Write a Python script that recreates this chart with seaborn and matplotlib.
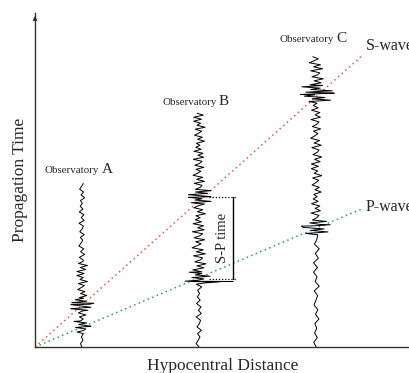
import numpy as np
import pandas as pd
import seaborn as sns
import matplotlib
matplotlib.use("Agg")
import matplotlib.pyplot as plt

# Observatories: hypocentral distance and the arrival times
obs_names = ["A", "B", "C"]
obs_dist = [1.0, 3.5, 6.0]
p_times = [0.60, 2.03, 3.60]
s_times = [1.28, 4.48, 7.58]

# Travel time lines (origin to the label end)
line_dist = [0.0, 7.0]
p_line = [0.0, 4.15]
s_line = [0.0, 8.75]

# Seismogram wiggle shape, hand typed, reused along each trace
wiggle = [0.4, -0.9, 0.7, -0.3, 1.0, -0.6, 0.2, 0.5, -0.8, 0.9, -0.4, 0.6, -1.0,
          -0.3, 0.3, -0.5, 0.8, -0.7, 0.1, 0.5, -0.95, 0.75, -0.2, 0.65, -0.85,
          0.35, -0.55, 0.15, -0.45, 0.9, -0.25, 0.55, -0.75, -0.1, 0.45, -0.65,
          1.0, -0.35, 0.25, -0.9]
wiggle_start = [0, 11, 23]

# Trace segments: (time from, time to, amplitude in px, time step)
segments = {
    "A": [(0.0, 0.45, 1.5, 0.10), (0.45, 0.78, 8, 0.045), (0.78, 1.10, 5.0, 0.06),
          (1.10, 1.48, 12, 0.045), (1.48, 2.6, 5.5, 0.06), (2.6, 4.9, 3.0, 0.085)],
    "B": [(0.0, 1.88, 3.0, 0.10), (1.88, 2.25, 11, 0.04), (2.25, 4.28, 7.0, 0.06),
          (4.28, 4.72, 12, 0.04), (4.72, 7.0, 6.0, 0.06)],
    "C": [(0.0, 3.40, 3.0, 0.14), (3.40, 3.80, 13, 0.045), (3.80, 7.35, 5.5, 0.07),
          (7.35, 7.85, 16, 0.04), (7.85, 8.7, 7.0, 0.06)],
}
# Extra long strokes at arrivals: (time, offset px)
spikes = {"A": [(0.62, 9), (1.31, 12), (1.27, -11)],
          "B": [(1.95, 20), (1.96, 34), (1.97, -14), (4.50, 12)],
          "C": [(3.62, -15), (3.66, 14), (7.60, 18), (7.56, -16)]}

PX_X = 375 / 8.0  # px per distance unit

rows = []
for i, name in enumerate(obs_names):
    pts = []
    k = wiggle_start[i]
    for t0, t1, amp, step in segments[name]:
        for t in np.arange(t0, t1, step):
            pts.append((t, amp * wiggle[k % len(wiggle)]))
            k += 1
    pts += spikes[name]
    pts.sort()
    pts[0] = (0.0, 0.0)
    for t, off in pts:
        rows.append({"trace": name, "t": t, "x": obs_dist[i] + off / PX_X})
df = pd.DataFrame(rows)

sns.set_style("white")
plt.rcParams["font.family"] = ["Liberation Serif", "DejaVu Serif"]

fig = plt.figure(figsize=(4.10, 3.73), dpi=100)
ax = fig.add_axes([35 / 410, 26 / 373, 375 / 410, 334 / 373])

sns.lineplot(x=line_dist, y=s_line, ax=ax, color="#ee5a45", lw=1.1,
             linestyle=(0, (1, 2.2)))
sns.lineplot(x=line_dist, y=p_line, ax=ax, color="#2f8ad0", lw=1.1,
             linestyle=(0, (1, 2.2)))
sns.lineplot(data=df, x="x", y="t", units="trace", estimator=None, sort=False,
             color="black", lw=0.7, ax=ax)

# S-P time marker at observatory B
ax.plot([3.72, 4.32], [s_times[1], s_times[1]], color="black", lw=0.9, linestyle=(0, (1, 1.5)))
ax.plot([3.72, 4.32], [p_times[1], p_times[1]], color="black", lw=0.9, linestyle=(0, (1, 1.5)))
ax.plot([4.22, 4.22], [p_times[1], s_times[1]], color="black", lw=1.0)
ax.text(4.0, (p_times[1] + s_times[1]) / 2, "S-P time", rotation=90, fontsize=10.5,
        ha="center", va="center")

# labels
label_y = [5.22, 7.25, 9.13]
for i, name in enumerate(obs_names):
    ax.text(obs_dist[i] + 0.37, label_y[i], "Observatory", fontsize=7.8, ha="right", va="baseline")
    ax.text(obs_dist[i] + 0.42, label_y[i], name, fontsize=11, ha="left", va="baseline")
ax.text(7.05, s_line[1] + 0.25, "S-wave", fontsize=11.5, ha="left", va="center", clip_on=False)
ax.text(7.05, p_line[1] + 0.05, "P-wave", fontsize=11.5, ha="left", va="center", clip_on=False)

ax.set_xlim(0, 8)
ax.set_ylim(0, 10)
ax.set_xticks([])
ax.set_yticks([])
ax.set_xlabel("Hypocentral Distance", fontsize=12.5, labelpad=8)
ax.set_ylabel("Propagation Time", fontsize=12.5, labelpad=5)
for side in ["top", "right"]:
    ax.spines[side].set_visible(False)
for side in ["left", "bottom"]:
    ax.spines[side].set_color("#333333")
    ax.spines[side].set_linewidth(1.0)
ax.annotate("", xy=(0, 1.0), xytext=(0, 0.97), xycoords="axes fraction",
            arrowprops=dict(arrowstyle="-|>", lw=0.8, color="#333333", mutation_scale=6))

fig.savefig("out.png", dpi=100)
